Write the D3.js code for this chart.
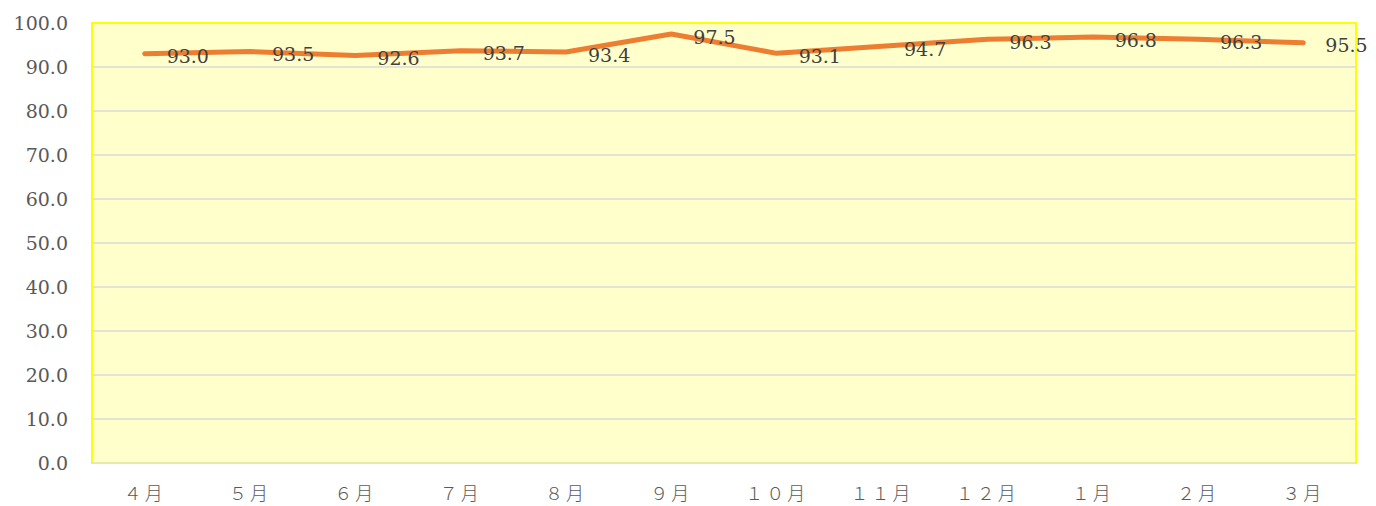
<!DOCTYPE html>
<html lang="ja">
<head>
<meta charset="UTF-8">
<title>月別推移</title>
<script src="https://cdn.jsdelivr.net/npm/d3@7"></script>
<style>
  body { margin: 0; background: #fff; }
  svg { display: block; }
</style>
</head>
<body>
<div id="chart"></div>
<script>
// data
const months = ["４月", "５月", "６月", "７月", "８月", "９月", "１０月", "１１月", "１２月", "１月", "２月", "３月"];
const values = [93.0, 93.5, 92.6, 93.7, 93.4, 97.5, 93.1, 94.7, 96.3, 96.8, 96.3, 95.5];
const yTicks = [0, 10, 20, 30, 40, 50, 60, 70, 80, 90, 100];

const width = 1376, height = 506;
const m = { top: 23, right: 20, bottom: 43, left: 92 };

const svg = d3.select("#chart").append("svg")
    .attr("width", width)
    .attr("height", height);

const x = d3.scaleBand()
    .domain(months)
    .range([m.left, width - m.right]);

const y = d3.scaleLinear()
    .domain([0, 100])
    .range([height - m.bottom, m.top]);

// plot background
svg.append("rect")
    .attr("x", x.range()[0])
    .attr("y", y(100))
    .attr("width", x.range()[1] - x.range()[0])
    .attr("height", y(0) - y(100))
    .attr("fill", "#ffffcc")
    .attr("stroke", "#ffff00")
    .attr("stroke-width", 2);

// gridlines
svg.append("g")
    .selectAll("line")
    .data(yTicks.filter(d => d > 0 && d < 100))
    .join("line")
    .attr("x1", x.range()[0] + 1)
    .attr("x2", x.range()[1] - 1)
    .attr("y1", d => y(d))
    .attr("y2", d => y(d))
    .attr("stroke", "#d9d9d9")
    .attr("stroke-width", 1.5);

// bottom axis line
svg.append("line")
    .attr("x1", x.range()[0])
    .attr("x2", x.range()[1])
    .attr("y1", y(0))
    .attr("y2", y(0))
    .attr("stroke", "#e8e8a8")
    .attr("stroke-width", 2);

// y labels
svg.append("g")
    .selectAll("text")
    .data(yTicks)
    .join("text")
    .attr("x", 68)
    .attr("y", d => y(d))
    .attr("dy", "0.35em")
    .attr("text-anchor", "end")
    .attr("font-family", "'DejaVu Serif', serif")
    .attr("font-size", 19)
    .attr("fill", "#595959")
    .text(d => d3.format(".1f")(d));

// x labels
svg.append("g")
    .selectAll("text")
    .data(months)
    .join("text")
    .attr("x", d => x(d) + x.bandwidth() / 2)
    .attr("y", 494)
    .attr("dy", "0.35em")
    .attr("text-anchor", "middle")
    .attr("font-family", "'Noto Sans CJK JP', sans-serif")
    .attr("font-weight", 300)
    .attr("font-size", 18)
    .attr("letter-spacing", 3)
    .attr("fill", "#595959")
    .text(d => d);

// line
const line = d3.line()
    .x((d, i) => x(months[i]) + x.bandwidth() / 2)
    .y(d => y(d));

svg.append("path")
    .datum(values)
    .attr("d", line)
    .attr("fill", "none")
    .attr("stroke", "#ed7d31")
    .attr("stroke-width", 5)
    .attr("stroke-linecap", "round")
    .attr("stroke-linejoin", "round");

// data labels
svg.append("g")
    .selectAll("text")
    .data(values)
    .join("text")
    .attr("x", (d, i) => x(months[i]) + x.bandwidth() / 2 + 22)
    .attr("y", d => y(d) + 3)
    .attr("dy", "0.35em")
    .attr("font-family", "'DejaVu Serif', serif")
    .attr("font-size", 19)
    .attr("fill", "#404040")
    .text(d => d3.format(".1f")(d));
</script>
</body>
</html>
